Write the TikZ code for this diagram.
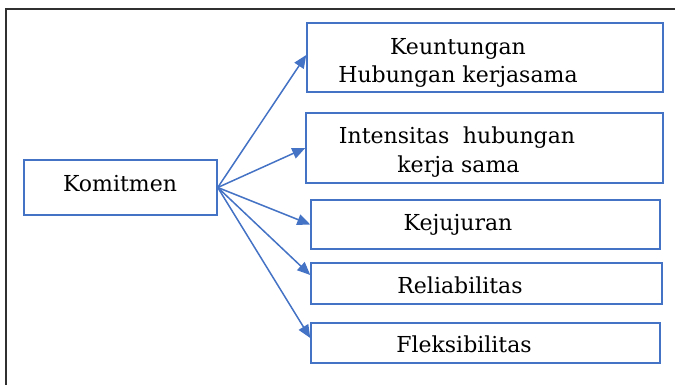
\documentclass[tikz,border=0pt]{standalone}
\usepackage{fontspec}
\setmainfont{DejaVu Serif}
\usetikzlibrary{arrows.meta}
\definecolor{boxblue}{HTML}{4472C4}
\definecolor{framegray}{HTML}{303030}
\tikzset{
  itembox/.style={draw=boxblue, line width=1.5pt, rectangle, inner sep=0pt},
  itemtext/.style={anchor=base, inner sep=0pt, font=\fontsize{22}{26}\selectfont},
  link/.style={draw=boxblue, line width=1.5pt, -{Triangle[length=13pt,width=11pt]}},
}
\begin{document}
\begin{tikzpicture}[x=1pt,y=-1pt]
\useasboundingbox (0,0) rectangle (675,385);
% outer frame (top and left edges visible)
\draw[framegray, line width=2pt] (675,9.5) -- (6,9.5) -- (6,385);

% boxes
\node[itembox, minimum width=193pt, minimum height=55pt] (k) at (120.5,187.5) {};
\node[itembox, minimum width=356pt, minimum height=69pt] (b1) at (485,57.5) {};
\node[itembox, minimum width=357pt, minimum height=70pt] (b2) at (484.5,148) {};
\node[itembox, minimum width=349pt, minimum height=49pt] (b3) at (485.5,224.5) {};
\node[itembox, minimum width=351pt, minimum height=41pt] (b4) at (486.5,283.5) {};
\node[itembox, minimum width=349pt, minimum height=40pt] (b5) at (485.5,343) {};

% labels
\node[itemtext] (tk) at (120,191) {Komitmen};
\node[itemtext] (t1a) at (458,55) {Keuntungan};
\node[itemtext] (t1b) at (458,83) {Hubungan kerjasama};
\node[itemtext] (t2a) at (457,144) {Intensitas\hspace{0.3em} hubungan};
\node[itemtext] (t2b) at (458.5,172.5) {kerja sama};
\node[itemtext] (t3) at (458,230) {Kejujuran};
\node[itemtext] (t4) at (460,293) {Reliabilitas};
\node[itemtext] (t5) at (464,352.5) {Fleksibilitas};

% connectors
\draw[link] (k.east) -- ([yshift=2.5pt]b1.west);
\draw[link] (k.east) -- (b2.west);
\draw[link] (k.east) -- (b3.west);
\draw[link] (k.east) -- ([yshift=8.5pt]b4.west);
\draw[link] (k.east) -- ([yshift=5pt]b5.west);
\end{tikzpicture}
\end{document}
